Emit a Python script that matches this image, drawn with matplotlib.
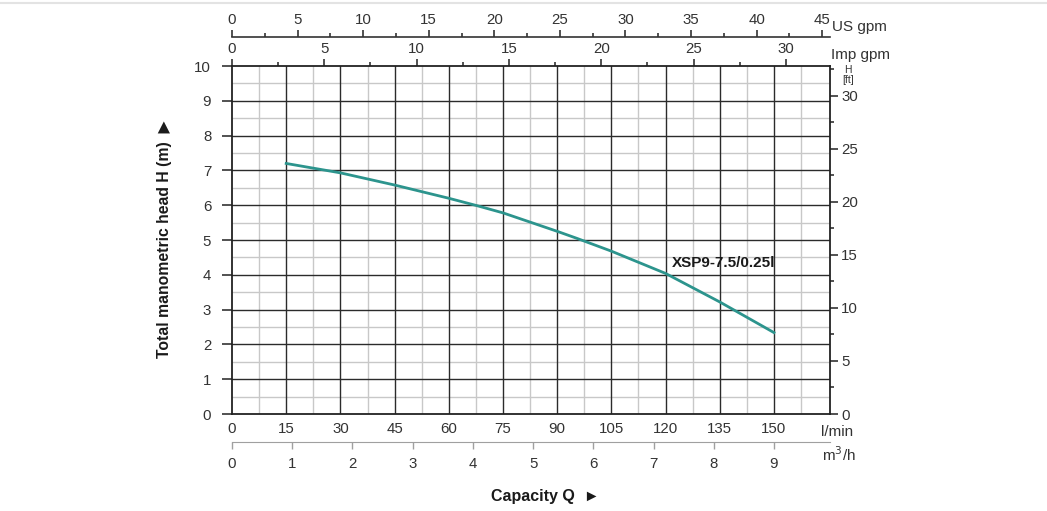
import numpy as np
import matplotlib.pyplot as plt
from matplotlib.ticker import MultipleLocator, NullFormatter

plt.rcParams['font.family'] = ['Liberation Sans', 'DejaVu Sans']

# curve (l/min -> H in m)
q_lmin = [15, 30, 45, 60, 67.7, 75, 90, 95.4, 105, 120, 135, 150]
head_m = [7.2, 6.93, 6.58, 6.2, 5.99, 5.78, 5.25, 5.05, 4.68, 4.04, 3.22, 2.34]
curve_name = "XSP9-7.5/0.25l"

lmin_ticks = [0, 15, 30, 45, 60, 75, 90, 105, 120, 135, 150]
m3h_ticks = [0, 1, 2, 3, 4, 5, 6, 7, 8, 9]
usgpm_ticks = [0, 5, 10, 15, 20, 25, 30, 35, 40, 45]
impgpm_ticks = [0, 5, 10, 15, 20, 25, 30]
ft_ticks = [0, 5, 10, 15, 20, 25, 30]

# scale factors as drawn on the sheet
LMIN_PER_USGPM = 3.63
LMIN_PER_IMPGPM = 5.11
LMIN_PER_M3H = 1000 / 60
FT_PER_M = 3.2808

TS = 10.8  # tick label size

fig = plt.figure(figsize=(10.47, 5.11), dpi=100)
ax = fig.add_axes([0.2216, 0.1898, 0.5711, 0.681])
ax.set_xlim(0, 165.5)
ax.set_ylim(0, 10)

# grid
for x in np.arange(7.5, 165, 15):
    ax.axvline(x, color='#c8c8c8', lw=1.0, zorder=1)
for x in np.arange(15, 165, 15):
    ax.axvline(x, color='#2b2b2b', lw=1.0, zorder=2)
for y in np.arange(0.5, 10, 1):
    ax.axhline(y, color='#c8c8c8', lw=1.0, zorder=1)
for y in np.arange(1, 10, 1):
    ax.axhline(y, color='#2b2b2b', lw=1.0, zorder=2)

for s in ax.spines.values():
    s.set_color('#222222')
    s.set_linewidth(1.3)

ax.plot(q_lmin, head_m, color='#2c948d', lw=2.0, zorder=5)
ax.text(121.8, 4.22, curve_name, fontsize=11, fontweight='bold', color='#1a1a1a', zorder=6)

ax.set_xticks(lmin_ticks)
ax.set_yticks(range(0, 11))
ax.tick_params(axis='x', length=0, pad=6, labelsize=TS, colors='#333333')
ax.tick_params(axis='y', length=7, width=1.2, pad=8, labelsize=TS, colors='#333333')

# m3/h axis below
ax_m3 = ax.secondary_xaxis(-0.08, functions=(lambda q: q / LMIN_PER_M3H, lambda v: v * LMIN_PER_M3H))
ax_m3.set_xticks(m3h_ticks)
ax_m3.spines['bottom'].set_color('#a0a0a0')
ax_m3.tick_params(length=5, width=1, color='#a0a0a0', pad=6, labelsize=TS, labelcolor='#333333')

# Imp gpm on top spine
ax_imp = ax.secondary_xaxis('top', functions=(lambda q: q / LMIN_PER_IMPGPM, lambda v: v * LMIN_PER_IMPGPM))
ax_imp.set_xticks(impgpm_ticks)
ax_imp.xaxis.set_minor_locator(MultipleLocator(2.5))
ax_imp.xaxis.set_minor_formatter(NullFormatter())
ax_imp.spines['top'].set_visible(False)
ax_imp.tick_params(which='major', length=5, width=1.2, pad=2, labelsize=TS, colors='#333333')
ax_imp.tick_params(which='minor', length=3, width=1.2, colors='#333333')

# US gpm further up
ax_us = ax.secondary_xaxis(1.083, functions=(lambda q: q / LMIN_PER_USGPM, lambda v: v * LMIN_PER_USGPM))
ax_us.set_xticks(usgpm_ticks)
ax_us.xaxis.set_minor_locator(MultipleLocator(2.5))
ax_us.xaxis.set_minor_formatter(NullFormatter())
ax_us.spines['top'].set_color('#333333')
ax_us.spines['top'].set_linewidth(1.2)
ax_us.tick_params(which='major', length=5, width=1.2, pad=2, labelsize=TS, colors='#333333')
ax_us.tick_params(which='minor', length=3, width=1.2, colors='#333333')

# ft on the right
ax_ft = ax.secondary_yaxis('right', functions=(lambda h: h * FT_PER_M, lambda f: f / FT_PER_M))
ax_ft.set_yticks(ft_ticks)
ax_ft.yaxis.set_minor_locator(MultipleLocator(2.5))
ax_ft.yaxis.set_minor_formatter(NullFormatter())
ax_ft.spines['right'].set_visible(False)
ax_ft.tick_params(which='major', length=6, width=1.2, pad=2, labelsize=TS, colors='#333333')
ax_ft.tick_params(which='minor', length=3, width=1.2, colors='#333333')

# unit labels
fig.text(832 / 1047, 1 - 27 / 511, "US gpm", fontsize=11, color='#333333', va='center', ha='left')
fig.text(831 / 1047, 1 - 55 / 511, "Imp gpm", fontsize=11, color='#333333', va='center', ha='left')
fig.text(848 / 1047, 1 - 70 / 511, "H", fontsize=7.5, color='#333333', va='center', ha='center')
fig.text(848 / 1047, 1 - 80 / 511, "[ft]", fontsize=7.5, color='#333333', va='center', ha='center')
fig.text(821 / 1047, 1 - 432 / 511, "l/min", fontsize=11, color='#333333', va='center', ha='left')
fig.text(822 / 1047, 1 - 455 / 511, "m$^3$/h", fontsize=11, color='#333333', va='center', ha='left')

fig.text(165 / 1047, 1 - 239 / 511, "Total manometric head H (m)  \u25b6", rotation=90,
         fontsize=11.3, fontweight='bold', color='#1a1a1a', va='center', ha='center')
fig.text(545 / 1047, 1 - 496 / 511, "Capacity Q  \u25ba", fontsize=11.5, fontweight='bold',
         color='#1a1a1a', va='center', ha='center')

fig.add_artist(plt.Line2D([0, 1], [1 - 3 / 511, 1 - 3 / 511], color='#e3e3e3', lw=1.5))

fig.savefig('out.png', dpi=100, facecolor='white')
